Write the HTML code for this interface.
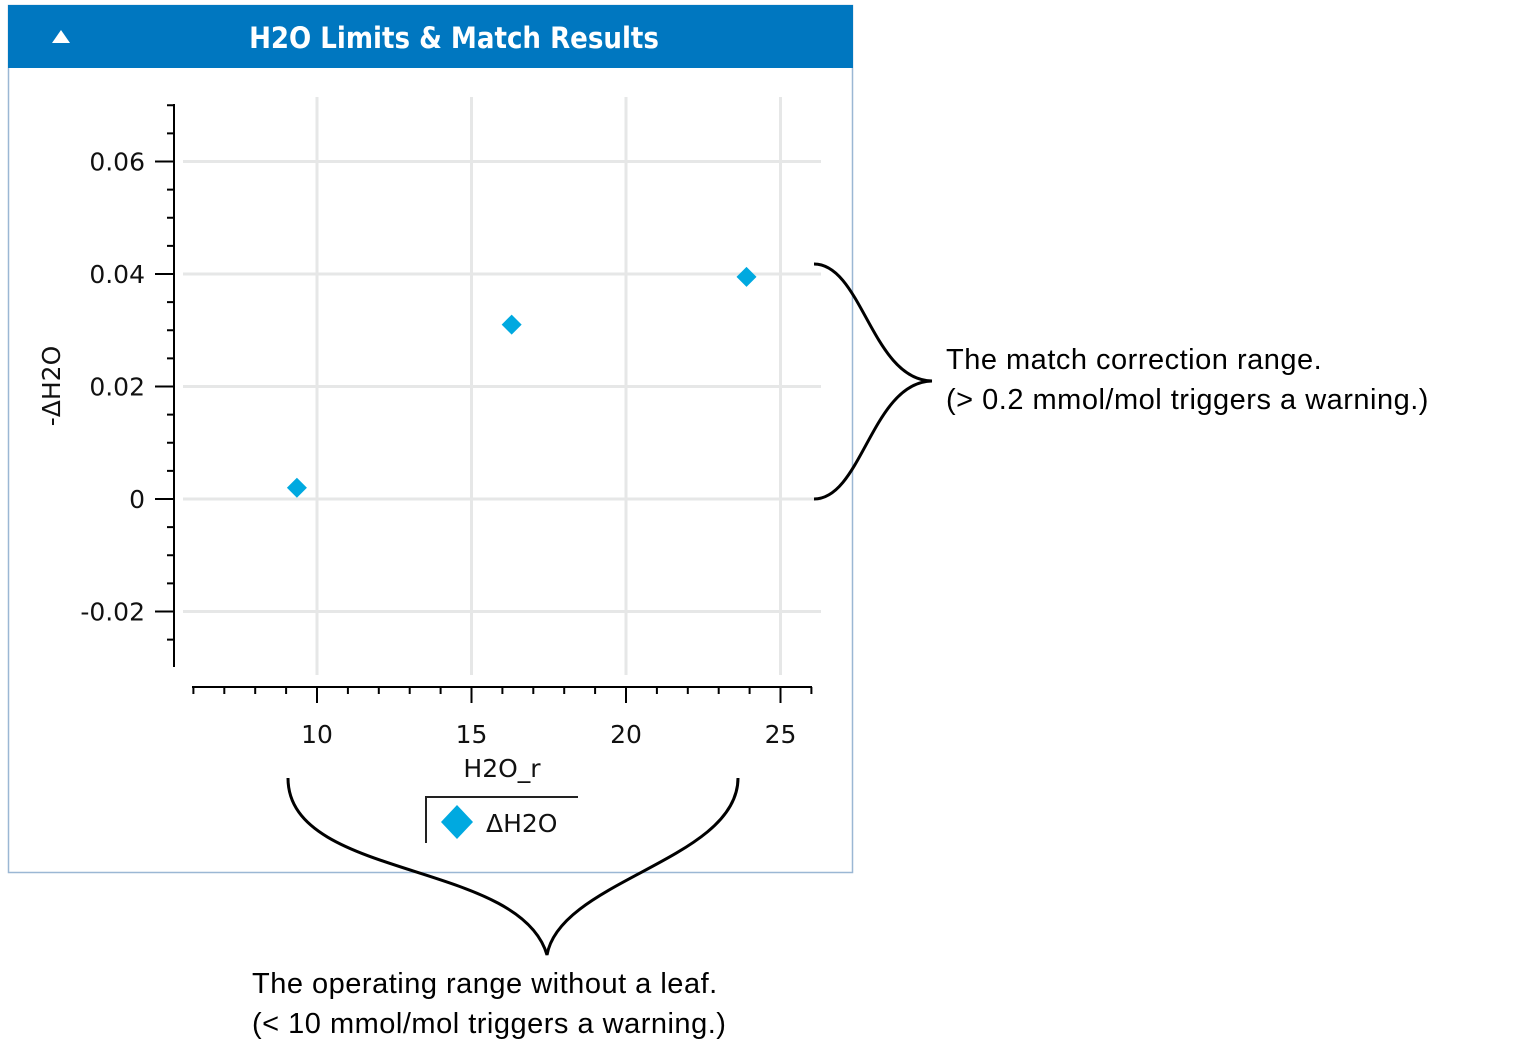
<!DOCTYPE html>
<html><head><meta charset="utf-8"><style>
html,body{margin:0;padding:0;background:#fff;}
body{width:1533px;height:1041px;position:relative;overflow:hidden;font-family:"DejaVu Sans","Liberation Sans",sans-serif;}
</style></head><body>
<svg width="1533" height="1041" viewBox="0 0 1533 1041" xmlns="http://www.w3.org/2000/svg">
<rect x="8.5" y="5.5" width="844" height="867" fill="#fff" stroke="#9bb7d4" stroke-width="1.5"/>
<rect x="8" y="5" width="845" height="63" fill="#0077c0"/>
<polygon points="52,43 61,30 70,43" fill="#fff"/>
<text x="454" y="48" text-anchor="middle" font-size="29" font-weight="bold" fill="#fff" font-family="'DejaVu Sans Condensed','DejaVu Sans',sans-serif">H2O Limits &amp; Match Results</text>
<g id="grid"></g><g id="axes"></g><g id="marks"></g>
<text transform="translate(60,386) rotate(-90)" text-anchor="middle" font-size="25" fill="#111">-ΔH2O</text>
<text x="502" y="777" text-anchor="middle" font-size="25" fill="#111">H2O_r</text>
<g>
<path d="M426,843 V797 H578" fill="none" stroke="#222" stroke-width="2"/>
<polygon points="457,805 473,822 457,839 441,822" fill="#00a9e0"/>
<text x="486" y="832" font-size="25" fill="#111">ΔH2O</text>
</g>
<path d="M814,264 C862,264 872,380 932,381 C872,382 862,499 814,499" fill="none" stroke="#000" stroke-width="3"/>
<text x="946" y="369" font-size="29" fill="#000" font-family="'Liberation Sans',sans-serif" letter-spacing="0.5">The match correction range.</text>
<text x="946" y="409" font-size="29" fill="#000" font-family="'Liberation Sans',sans-serif" letter-spacing="0.5">(&gt; 0.2 mmol/mol triggers a warning.)</text>
<path d="M288,778 C288,880 520,860 547,955 C560,880 738,860 738,778" fill="none" stroke="#000" stroke-width="3"/>
<text x="252" y="993" font-size="29" fill="#000" font-family="'Liberation Sans',sans-serif" letter-spacing="0.5">The operating range without a leaf.</text>
<text x="252" y="1033" font-size="29" fill="#000" font-family="'Liberation Sans',sans-serif" letter-spacing="0.5">(&lt; 10 mmol/mol triggers a warning.)</text>
</svg>
<script>
const xTicks=[10,15,20,25];
const yTicks=[-0.02,0,0.02,0.04,0.06];
const yTickLabels=["-0.02","0","0.02","0.04","0.06"];
const xValues=[9.35,16.3,23.9];
const yValues=[0.002,0.031,0.0395];
const NS="http://www.w3.org/2000/svg";
function X(v){return 317+(v-10)*30.9;}
function Y(v){return 499-v*5625;}
function mk(p,t,a){const e=document.createElementNS(NS,t);for(const k in a)e.setAttribute(k,a[k]);p.appendChild(e);return e;}
const g=document.getElementById('grid'),ax=document.getElementById('axes'),m=document.getElementById('marks');
xTicks.forEach(v=>{const l=mk(g,'line',{x1:X(v),x2:X(v),y1:97,y2:675,stroke:'#e6e7e7','stroke-width':3});

});
yTicks.forEach(v=>{const l=mk(g,'line',{x1:183,x2:821,y1:Y(v),y2:Y(v),stroke:'#e6e7e7','stroke-width':3});

});
// y axis
const ya=mk(ax,'line',{x1:174,x2:174,y1:104,y2:667,stroke:'#000','stroke-width':2});


for(let i=-6;i<=14;i++){const v=i*0.005;const y=Y(v);if(y<104||y>667)continue;const maj=i%4===0;
mk(ax,'line',{x1:maj?155:167,x2:174,y1:y,y2:y,stroke:'#000','stroke-width':2});}
yTicks.forEach((v,i)=>{const t=mk(ax,'text',{x:145,y:Y(v)+9,'text-anchor':'end','font-size':25,fill:'#111'});t.textContent=yTickLabels[i];

});
// x axis
const xa=mk(ax,'line',{x1:192,x2:812,y1:687,y2:687,stroke:'#000','stroke-width':2});


for(let v=6;v<=26;v++){const x=X(v);if(x<192||x>812)continue;const maj=v%5===0;
mk(ax,'line',{x1:x,x2:x,y1:687,y2:maj?703:694,stroke:'#000','stroke-width':2});}
xTicks.forEach(v=>{const t=mk(ax,'text',{x:X(v),y:743,'text-anchor':'middle','font-size':25,fill:'#111'});t.textContent=String(v);

});
xValues.forEach((xv,i)=>{const cx=X(xv),cy=Y(yValues[i]);
const p=mk(m,'polygon',{points:`${cx},${cy-10} ${cx+10},${cy} ${cx},${cy+10} ${cx-10},${cy}`,fill:'#00a9e0'});

});
</script>
</body></html>
